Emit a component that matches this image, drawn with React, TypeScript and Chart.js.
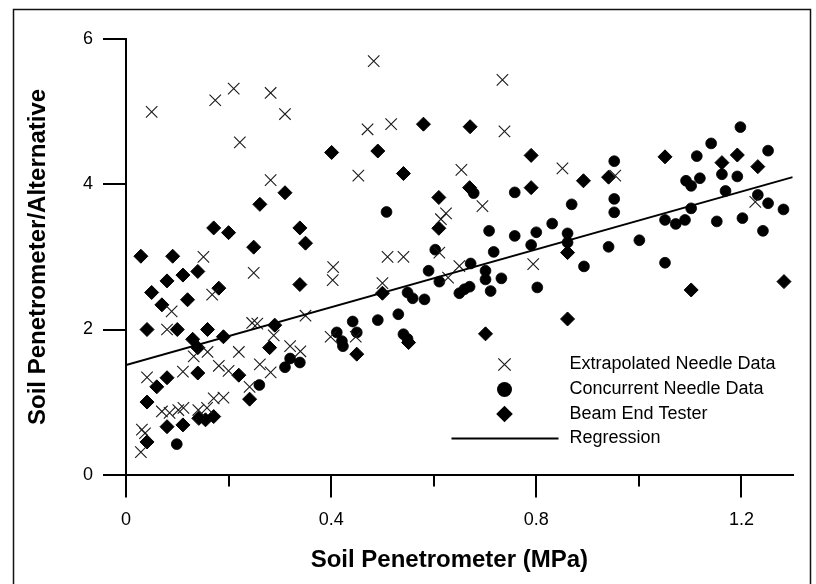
import React, { useEffect, useRef } from 'react';
import { Chart, registerables } from 'chart.js';

Chart.register(...registerables);

// ---- Data ----
const extrapX = [0.050, 0.174, 0.210, 0.282, 0.310, 0.222, 0.282, 0.483, 0.734, 0.471, 0.517, 0.738, 0.453, 0.654, 0.851, 0.695, 0.624, 0.614, 0.954, 1.227, 0.510, 0.541, 0.611, 0.650, 0.628, 0.794, 0.500, 0.448, 0.151, 0.249, 0.404, 0.403, 0.168, 0.089, 0.080, 0.246, 0.256, 0.350, 0.288, 0.399, 0.132, 0.159, 0.220, 0.181, 0.200, 0.261, 0.282, 0.320, 0.340, 0.111, 0.041, 0.241, 0.171, 0.190, 0.070, 0.085, 0.102, 0.112, 0.141, 0.158, 0.031, 0.037, 0.029];
const extrapY = [5.00, 5.16, 5.32, 5.26, 4.97, 4.58, 4.06, 5.70, 5.44, 4.76, 4.83, 4.73, 4.12, 4.20, 4.22, 3.70, 3.60, 3.52, 4.12, 3.76, 3.00, 3.00, 3.06, 2.875, 2.715, 2.90, 2.64, 1.90, 3.00, 2.78, 2.86, 2.68, 2.48, 2.25, 2.00, 2.09, 2.08, 2.19, 1.92, 1.90, 1.63, 1.69, 1.69, 1.50, 1.43, 1.52, 1.41, 1.77, 1.70, 1.42, 1.34, 1.21, 1.05, 1.06, 0.87, 0.85, 0.89, 0.92, 0.89, 0.92, 0.62, 0.57, 0.31];

const concurrentX = [0.508, 0.678, 0.758, 0.869, 0.708, 0.758, 0.800, 0.831, 0.861, 0.861, 0.790, 0.603, 0.717, 0.952, 0.952, 0.952, 1.198, 1.141, 1.252, 1.113, 1.162, 1.192, 1.119, 1.092, 1.102, 1.169, 1.232, 1.252, 1.282, 1.102, 1.051, 1.072, 1.090, 1.152, 1.202, 1.242, 1.001, 0.941, 0.893, 1.051, 0.590, 0.672, 0.701, 0.701, 0.732, 0.611, 0.670, 0.660, 0.650, 0.711, 0.802, 0.549, 0.559, 0.582, 0.531, 0.491, 0.442, 0.450, 0.541, 0.549, 0.411, 0.421, 0.423, 0.260, 0.310, 0.320, 0.339, 0.099];
const concurrentY = [3.62, 3.88, 3.89, 3.725, 3.36, 3.29, 3.34, 3.46, 3.325, 3.20, 3.165, 3.10, 3.07, 4.32, 3.80, 3.615, 4.79, 4.565, 4.465, 4.39, 4.14, 4.11, 4.085, 4.05, 3.98, 3.91, 3.855, 3.74, 3.655, 3.67, 3.51, 3.455, 3.51, 3.49, 3.535, 3.36, 3.23, 3.14, 2.87, 2.92, 2.81, 2.91, 2.81, 2.69, 2.705, 2.66, 2.59, 2.555, 2.50, 2.53, 2.58, 2.51, 2.43, 2.415, 2.21, 2.13, 2.11, 1.96, 1.935, 1.87, 1.96, 1.84, 1.77, 1.235, 1.48, 1.60, 1.545, 0.42];

const beamX = [0.401, 0.310, 0.261, 0.171, 0.200, 0.339, 0.350, 0.249, 0.580, 0.671, 0.491, 0.541, 0.790, 0.790, 0.892, 0.670, 0.610, 0.610, 0.941, 1.051, 1.162, 1.192, 1.232, 1.102, 1.283, 0.500, 0.551, 0.450, 0.701, 0.861, 0.861, 0.029, 0.091, 0.140, 0.111, 0.080, 0.050, 0.181, 0.120, 0.070, 0.339, 0.041, 0.100, 0.159, 0.190, 0.130, 0.140, 0.290, 0.280, 0.220, 0.140, 0.080, 0.060, 0.041, 0.241, 0.080, 0.111, 0.142, 0.155, 0.171, 0.041];
const beamY = [4.44, 3.885, 3.725, 3.40, 3.335, 3.40, 3.19, 3.135, 4.83, 4.795, 4.46, 4.15, 4.40, 3.955, 4.05, 3.955, 3.82, 3.395, 4.10, 4.38, 4.30, 4.405, 4.245, 2.545, 2.66, 2.50, 1.82, 1.66, 1.94, 2.145, 3.06, 3.01, 3.01, 2.80, 2.75, 2.67, 2.51, 2.57, 2.41, 2.34, 2.62, 2.00, 2.00, 2.00, 1.90, 1.865, 1.75, 2.06, 1.75, 1.37, 1.40, 1.335, 1.21, 1.00, 1.04, 0.66, 0.685, 0.775, 0.755, 0.80, 0.45];

const regressionX = [0, 1.3];
const regressionY = [1.51, 4.1];

const xMajorTicks = [0, 0.4, 0.8, 1.2];
const xTickLabels = ['0', '0.4', '0.8', '1.2'];
const xMinorTicks = [0.2, 0.6, 1.0];
const yTicks = [0, 2, 4, 6];
const yTickLabels = ['0', '2', '4', '6'];

const legendLabels = ['Extrapolated Needle Data', 'Concurrent Needle Data', 'Beam End Tester', 'Regression'];

const toPoints = (xs: number[], ys: number[]) => xs.map((x, i) => ({ x, y: ys[i] }));

const FONT = '"Liberation Sans", Arial, Helvetica, sans-serif';

const framePlugin = {
  id: 'framePlugin',
  beforeDraw(chart: any) {
    const ctx = chart.ctx;
    ctx.save();
    ctx.fillStyle = '#ffffff';
    ctx.fillRect(0, 0, chart.width, chart.height);
    ctx.strokeStyle = '#111';
    ctx.lineWidth = 1.5;
    ctx.beginPath();
    ctx.moveTo(13.5, 600);
    ctx.lineTo(13.5, 9.5);
    ctx.lineTo(810.5, 9.5);
    ctx.lineTo(810.5, 600);
    ctx.stroke();
    ctx.restore();
  },
};

const legendPlugin = {
  id: 'customLegend',
  afterDraw(chart: any) {
    const ctx = chart.ctx;
    const mx = 504.5;
    const tx = 569.5;
    const rows = [364.5, 389.5, 414, 438.5];
    ctx.save();
    // cross
    ctx.strokeStyle = '#1a1a1a';
    ctx.lineWidth = 1.2;
    const c = 6.2;
    ctx.beginPath();
    ctx.moveTo(mx - c, rows[0] - c);
    ctx.lineTo(mx + c, rows[0] + c);
    ctx.moveTo(mx + c, rows[0] - c);
    ctx.lineTo(mx - c, rows[0] + c);
    ctx.stroke();
    // circle
    ctx.fillStyle = '#000';
    ctx.beginPath();
    ctx.arc(mx, rows[1], 7.5, 0, Math.PI * 2);
    ctx.fill();
    // diamond
    const d = 8.3;
    ctx.beginPath();
    ctx.moveTo(mx - d, rows[2]);
    ctx.lineTo(mx, rows[2] - d);
    ctx.lineTo(mx + d, rows[2]);
    ctx.lineTo(mx, rows[2] + d);
    ctx.closePath();
    ctx.fill();
    // line
    ctx.strokeStyle = '#000';
    ctx.lineWidth = 2;
    ctx.beginPath();
    ctx.moveTo(451.5, rows[3]);
    ctx.lineTo(558.5, rows[3]);
    ctx.stroke();
    // labels
    ctx.fillStyle = '#000';
    ctx.font = `18px ${FONT}`;
    ctx.textAlign = 'left';
    ctx.textBaseline = 'middle';
    legendLabels.forEach((t, i) => ctx.fillText(t, tx, rows[i]));
    ctx.restore();
  },
};

export default function App() {
  const ref = useRef<HTMLCanvasElement | null>(null);

  useEffect(() => {
    if (!ref.current) return;
    const chart = new Chart(ref.current, {
      type: 'scatter',
      data: {
        datasets: [
          {
            label: 'Regression',
            data: toPoints(regressionX, regressionY),
            showLine: true,
            borderColor: '#000',
            borderWidth: 2,
            pointRadius: 0,
            fill: false,
            order: 0,
          } as any,
          {
            label: 'Extrapolated Needle Data',
            data: toPoints(extrapX, extrapY),
            pointStyle: 'crossRot',
            pointRadius: 8.1,
            borderColor: '#1a1a1a',
            borderWidth: 1.1,
            backgroundColor: 'rgba(0,0,0,0)',
            order: 1,
          },
          {
            label: 'Concurrent Needle Data',
            data: toPoints(concurrentX, concurrentY),
            pointStyle: 'circle',
            pointRadius: 5.4,
            borderColor: '#000',
            borderWidth: 0.8,
            backgroundColor: '#000',
            order: 2,
          },
          {
            label: 'Beam End Tester',
            data: toPoints(beamX, beamY),
            pointStyle: 'rectRot',
            pointRadius: 7,
            borderColor: '#000',
            borderWidth: 1,
            backgroundColor: '#000',
            order: 3,
          },
        ],
      },
      options: {
        animation: false,
        responsive: false,
        events: [],
        layout: { padding: { left: 0, right: 23.3, top: 39.3, bottom: 0 } },
        plugins: {
          legend: { display: false },
          tooltip: { enabled: false },
          title: { display: false },
        },
        scales: {
          xMinor: {
            type: 'linear',
            position: 'bottom',
            weight: 0,
            min: 0,
            max: 1.3,
            afterBuildTicks: (scale: any) => {
              scale.ticks = xMinorTicks.map((v) => ({ value: v }));
            },
            afterFit: (scale: any) => {
              scale.height = 0;
            },
            ticks: { display: false },
            grid: {
              drawOnChartArea: false,
              drawTicks: true,
              tickLength: 12,
              color: '#000',
              lineWidth: 2,
            },
            border: { display: false },
          },
          x: {
            type: 'linear',
            position: 'bottom',
            weight: 1,
            min: 0,
            max: 1.3,
            afterBuildTicks: (scale: any) => {
              scale.ticks = xMajorTicks.map((v) => ({ value: v }));
            },
            afterFit: (scale: any) => {
              scale.height = 584 - 474.6;
            },
            ticks: {
              callback: (_v: any, i: number) => xTickLabels[i],
              color: '#000',
              font: { family: FONT, size: 18 },
              padding: 12,
              maxRotation: 0,
              autoSkip: false,
            },
            grid: {
              drawOnChartArea: false,
              drawTicks: true,
              tickLength: 23,
              color: '#000',
              lineWidth: 2,
            },
            border: { display: true, color: '#000', width: 2 },
            title: {
              display: true,
              text: 'Soil Penetrometer (MPa)\u00a0\u00a0\u00a0',
              color: '#000',
              font: { family: FONT, size: 24, weight: 'bold' },
              padding: { top: 0, bottom: 9 },
            },
          },
          y: {
            type: 'linear',
            position: 'left',
            min: 0,
            max: 6,
            afterBuildTicks: (scale: any) => {
              scale.ticks = yTicks.map((v) => ({ value: v }));
            },
            afterFit: (scale: any) => {
              scale.width = 126;
            },
            ticks: {
              callback: (_v: any, i: number) => yTickLabels[i],
              color: '#000',
              font: { family: FONT, size: 18 },
              padding: 10,
            },
            grid: {
              drawOnChartArea: false,
              drawTicks: true,
              tickLength: 23,
              color: '#000',
              lineWidth: 2,
            },
            border: { display: true, color: '#000', width: 2 },
            title: {
              display: true,
              text: 'Soil Penetrometer/Alternative',
              color: '#000',
              font: { family: FONT, size: 24, weight: 'bold' },
              padding: { top: 24, bottom: 0 },
            },
          },
        },
      } as any,
      plugins: [framePlugin, legendPlugin],
    });
    return () => chart.destroy();
  }, []);

  return (
    <div style={{ position: 'absolute', left: 0, top: 0, width: 816, height: 584, background: '#fff' }}>
      <canvas ref={ref} width={816} height={584} style={{ display: 'block', width: 816, height: 584 }} />
    </div>
  );
}
